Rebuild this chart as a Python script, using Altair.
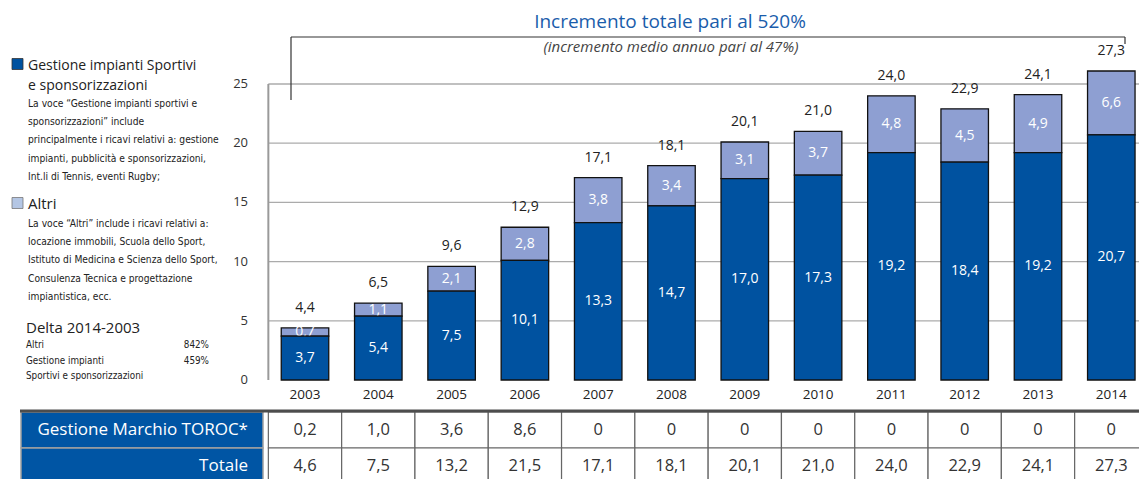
import altair as alt
import pandas as pd

# ---------------- data ----------------
years = list(range(2003, 2015))
gestione = [3.7, 5.4, 7.5, 10.1, 13.3, 14.7, 17.0, 17.3, 19.2, 18.4, 19.2, 20.7]
altri = [0.7, 1.1, 2.1, 2.8, 3.8, 3.4, 3.1, 3.7, 4.8, 4.5, 4.9, 6.6]
# height of the light segment as it is drawn in the picture (2014 is drawn shorter than its label)
altri_drawn = [0.7, 1.1, 2.1, 2.8, 3.8, 3.4, 3.1, 3.7, 4.8, 4.5, 4.9, 5.4]
totali_barre = [4.4, 6.5, 9.6, 12.9, 17.1, 18.1, 20.1, 21.0, 24.0, 22.9, 24.1, 27.3]
toroc = [0.2, 1.0, 3.6, 8.6, 0, 0, 0, 0, 0, 0, 0, 0]
totale = [4.6, 7.5, 13.2, 21.5, 17.1, 18.1, 20.1, 21.0, 24.0, 22.9, 24.1, 27.3]
y_ticks = [0, 5, 10, 15, 20, 25]
row_labels = ["Gestione Marchio TOROC*", "Totale"]

title_text = "Incremento totale pari al 520%"
subtitle_text = "(incremento medio annuo pari al 47%)"
leg1_head = "Gestione impianti Sportivi\ne sponsorizzazioni"
leg1_body = ("La voce \u201cGestione impianti sportivi e\nsponsorizzazioni\u201d include\n"
             "principalmente i ricavi relativi a: gestione\nimpianti, pubblicit\u00e0 e sponsorizzazioni,\n"
             "Int.li di Tennis, eventi Rugby;")
leg2_head = "Altri"
leg2_body = ("La voce \u201cAltri\u201d include i ricavi relativi a:\nlocazione immobili, Scuola dello Sport,\n"
             "Istituto di Medicina e Scienza dello Sport,\nConsulenza Tecnica e progettazione\n"
             "impiantistica, ecc.")
delta_head = "Delta 2014-2003"
delta_labels = "Altri\nGestione impianti\nSportivi e sponsorizzazioni"
delta_values = "842%\n459%"


def fmt(v):
    return "0" if v == 0 else f"{v:.1f}".replace(".", ",")


bars = pd.DataFrame({
    "year": years,
    "gestione": gestione,
    "altri_drawn": altri_drawn,
    "lab_g": [fmt(v) for v in gestione],
    "lab_a": [fmt(v) for v in altri],
    "lab_t": [fmt(v) for v in totali_barre],
})
table = pd.DataFrame(
    [{"r": 0, "year": y, "txt": fmt(v)} for y, v in zip(years, toroc)]
    + [{"r": 1, "year": y, "txt": fmt(v)} for y, v in zip(years, totale)]
)
rows = pd.DataFrame({"r": [0, 1], "row": row_labels})
ticks = pd.DataFrame({"v": y_ticks})
grid = pd.DataFrame({"v": y_ticks[1:]})
one = pd.DataFrame({"k": [0]})

# ---------------- styles ----------------
FONT = "Open Sans"
NARROW = "Liberation Sans Narrow, DejaVu Sans Condensed, Roboto Condensed, Arial Narrow, sans-serif"
DARK = "#0052A0"
LIGHT = "#8E9FD2"
TBLUE = "#0055A4"

X = alt.Scale(domain=[2003, 2013], range=[292, 1035], nice=False, zero=False)
Y = alt.Scale(domain=[0, 25], range=[372, 76], nice=False, zero=False)
T = alt.Scale(domain=[0, 2], range=[404, 476], nice=False, zero=False)

base = alt.Chart(bars)

gridlines = alt.Chart(grid).transform_calculate(a="2002.5", b="2014.6").mark_rule(
    color="#ababab", strokeWidth=1.3).encode(
    x=alt.X("a:Q", scale=X, axis=None), x2="b:Q",
    y=alt.Y("v:Q", scale=Y, axis=None))
yaxis = alt.Chart(one).transform_calculate(a="2002.5", lo="0", hi="25").mark_rule(
    color="#9a9a9a", strokeWidth=2).encode(
    x=alt.X("a:Q", scale=X, axis=None),
    y=alt.Y("lo:Q", scale=Y, axis=None), y2="hi:Q")
ylabels = alt.Chart(ticks).mark_text(align="right", baseline="middle", font=FONT,
                                     fontSize=13, color="#333").encode(
    x=alt.value(240), y=alt.Y("v:Q", scale=Y, axis=None), text="v:Q")

light = base.transform_calculate(top="datum.gestione + datum.altri_drawn").mark_bar(
    size=47.5, orient="vertical", color=LIGHT, stroke="#111", strokeWidth=1.3).encode(
    x=alt.X("year:Q", scale=X, axis=None),
    y=alt.Y("gestione:Q", scale=Y, axis=None), y2="top:Q")
light_lab = base.transform_calculate(mid="datum.gestione + datum.altri_drawn / 2").mark_text(
    font=FONT, fontSize=14, color="white", baseline="middle").encode(
    x=alt.X("year:Q", scale=X, axis=None),
    y=alt.Y("mid:Q", scale=Y, axis=None), text="lab_a:N")
dark = base.transform_calculate(zero="0").mark_bar(
    size=47.5, orient="vertical", color=DARK, stroke="#111", strokeWidth=1.3).encode(
    x=alt.X("year:Q", scale=X, axis=None),
    y=alt.Y("gestione:Q", scale=Y, axis=None), y2="zero:Q")
dark_lab = base.transform_calculate(mid="datum.gestione / 2").mark_text(
    font=FONT, fontSize=14, color="white", baseline="middle").encode(
    x=alt.X("year:Q", scale=X, axis=None),
    y=alt.Y("mid:Q", scale=Y, axis=None), text="lab_g:N")
tot_lab = base.transform_calculate(top="datum.gestione + datum.altri_drawn").mark_text(
    font=FONT, fontSize=14, color="#222", baseline="middle", dy=-20).encode(
    x=alt.X("year:Q", scale=X, axis=None),
    y=alt.Y("top:Q", scale=Y, axis=None), text="lab_t:N")
year_lab = base.mark_text(font=FONT, fontSize=13.5, color="#222", baseline="middle").encode(
    x=alt.X("year:Q", scale=X, axis=None), y=alt.value(387), text="year:N")

# ---------------- table ----------------
cells = alt.Chart(table).transform_calculate(
    x0="datum.year - 0.5", x1="datum.year + 0.5", r1="datum.r + 1").mark_rect(
    fill="white", stroke="#666", strokeWidth=1.2).encode(
    x=alt.X("x0:Q", scale=X, axis=None), x2="x1:Q",
    y=alt.Y("r:Q", scale=T, axis=None), y2="r1:Q")
cell_txt = alt.Chart(table).transform_calculate(rm="datum.r + 0.5").mark_text(
    font=FONT, fontSize=16.5, color="#333", baseline="middle").encode(
    x=alt.X("year:Q", scale=X, axis=None), y=alt.Y("rm:Q", scale=T, axis=None), text="txt:N")
head_cells = alt.Chart(rows).transform_calculate(r1="datum.r + 1").mark_rect(
    fill=TBLUE, stroke="#a0a0a0", strokeWidth=1.5).encode(
    x=alt.value(13), x2=alt.value(255),
    y=alt.Y("r:Q", scale=T, axis=None), y2="r1:Q")
head_txt = alt.Chart(rows).transform_calculate(rm="datum.r + 0.5").mark_text(
    font=FONT, fontSize=17, color="white", align="right", baseline="middle").encode(
    x=alt.value(240), y=alt.Y("rm:Q", scale=T, axis=None), text="row:N")
top_border = alt.Chart(one).mark_rule(color="#4d4d4d", strokeWidth=3).encode(
    x=alt.value(12), x2=alt.value(1131), y=alt.value(403))


# ---------------- annotations ----------------
def note(text, x, y, size, font=FONT, color="#222", align="left", baseline="alphabetic",
         line_height=None, style="normal"):
    kw = dict(font=font, fontSize=size, color=color, align=align, baseline=baseline,
              lineBreak="\n", fontStyle=style)
    if line_height is not None:
        kw["lineHeight"] = line_height
    return alt.Chart(pd.DataFrame({"t": [text]})).mark_text(**kw).encode(
        x=alt.value(x), y=alt.value(y), text="t:N")


bracket = [
    alt.Chart(one).mark_rule(color="#333", strokeWidth=1.2).encode(
        x=alt.value(283), x2=alt.value(1117), y=alt.value(29)),
    alt.Chart(one).mark_rule(color="#333", strokeWidth=1.2).encode(
        x=alt.value(283), y=alt.value(29), y2=alt.value(92)),
    alt.Chart(one).mark_rule(color="#333", strokeWidth=1.2).encode(
        x=alt.value(1117), y=alt.value(29), y2=alt.value(36)),
]

sq1 = alt.Chart(one).mark_point(shape="square", filled=True, size=121, fill=DARK,
                                stroke="#333", strokeWidth=0.8, opacity=1).encode(
    x=alt.value(9.5), y=alt.value(56))
sq2 = alt.Chart(one).mark_point(shape="square", filled=True, size=121, fill="#B4C6E4",
                                stroke="#777", strokeWidth=0.8, opacity=1).encode(
    x=alt.value(9.5), y=alt.value(195))

notes = [
    note(title_text, 662, 14, 19, color="#1A5DAB", align="center", baseline="middle"),
    note(subtitle_text, 663, 39, 15, color="#444", align="center", baseline="middle", style="italic"),
    note(leg1_head, 20, 61.5, 14, line_height=20),
    note(leg1_body, 20, 99, 10.2, font=NARROW, line_height=18.2),
    note(leg2_head, 20, 200.5, 15),
    note(leg2_body, 20, 219, 10.2, font=NARROW, line_height=18.2),
    note(delta_head, 18, 325, 15),
    note(delta_labels, 18, 340, 9.8, font=NARROW, line_height=15.5),
    note(delta_values, 201, 340, 9.8, font=NARROW, align="right", line_height=15.5),
]

chart = alt.layer(
    gridlines, yaxis, ylabels,
    light, light_lab, dark, dark_lab, tot_lab, year_lab,
    cells, cell_txt, head_cells, head_txt, top_border,
    *bracket, sq1, sq2, *notes,
).resolve_scale(y="independent").properties(
    width=1131, height=471, padding=0, background="white",
    autosize=alt.AutoSizeParams(type="none"),
).configure_view(stroke=None)

chart.save("out.html", embed_options={"renderer": "svg", "actions": False})
